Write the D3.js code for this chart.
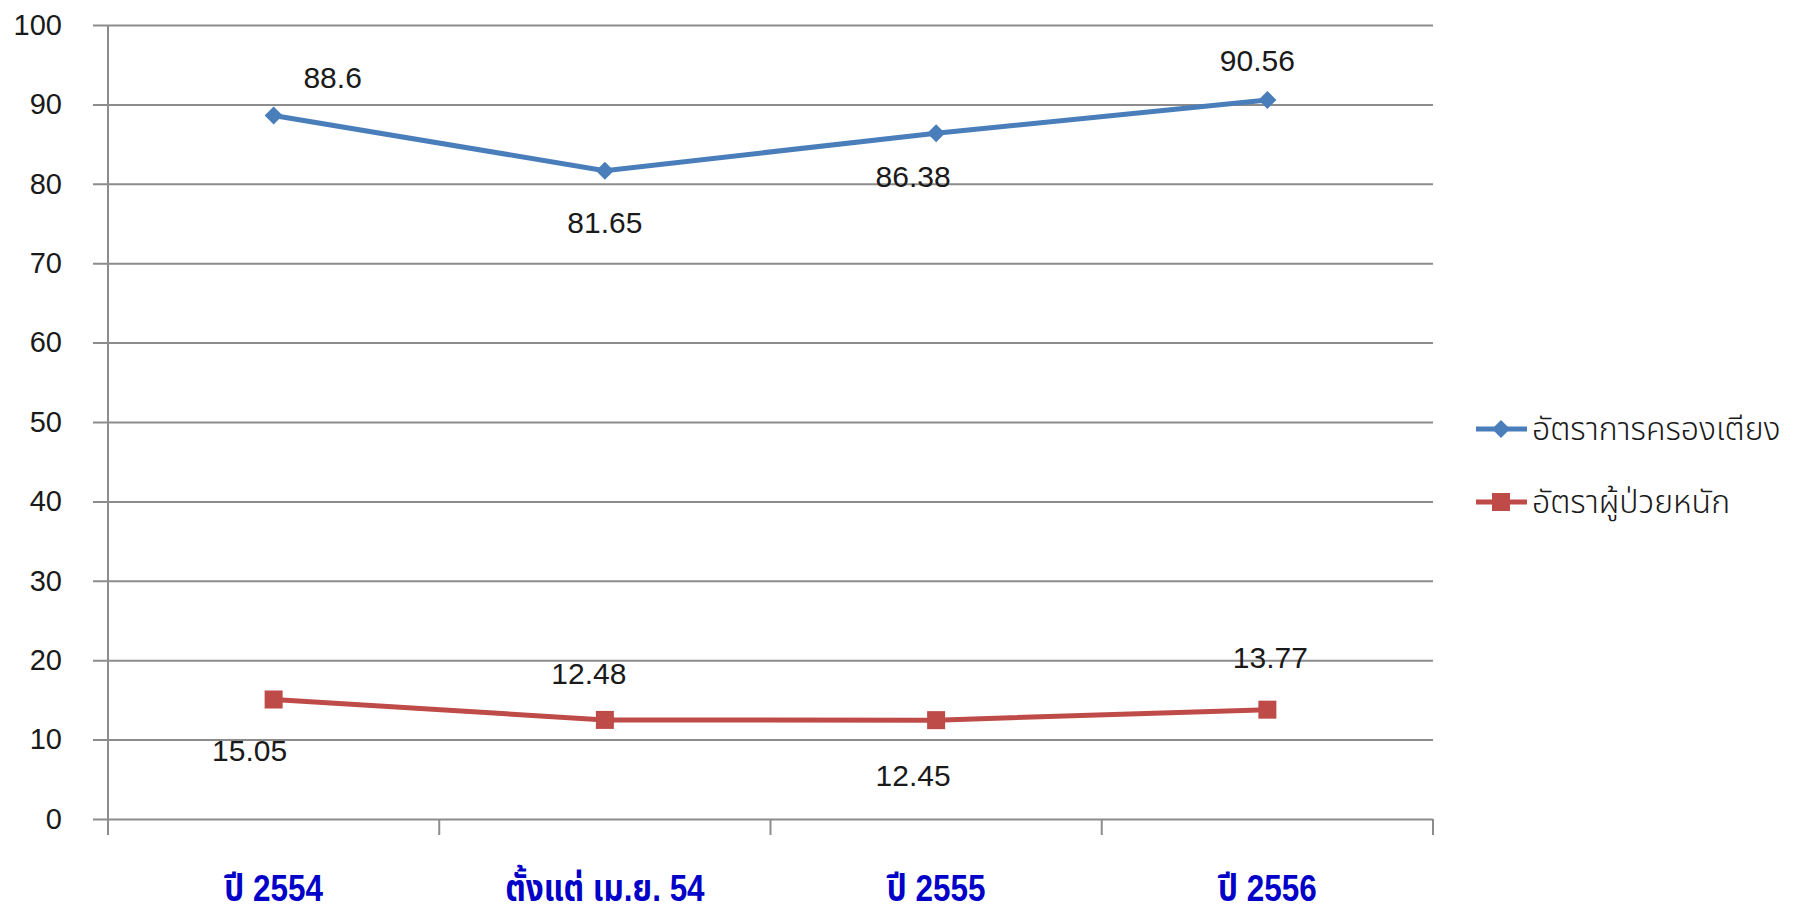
<!DOCTYPE html>
<html>
<head>
<meta charset="utf-8">
<script src="https://cdn.jsdelivr.net/npm/d3@7"></script>
<style>
	body { margin: 0; background: #fff; }
	text { font-family: "Liberation Sans", "Noto Sans Thai", "Noto Sans", sans-serif; }
</style>
</head>
<body>
<div class="chartDiv"></div>
<script>
var categories = ["ปี 2554", "ตั้งแต่ เม.ย. 54", "ปี 2555", "ปี 2556"];
var bedRate = [88.6, 81.65, 86.38, 90.56];
var severeRate = [15.05, 12.48, 12.45, 13.77];
var seriesNames = ["อัตราการครองเตียง", "อัตราผู้ป่วยหนัก"];
var yTicks = [0, 10, 20, 30, 40, 50, 60, 70, 80, 90, 100];

// label offsets from each point (dx, dy of text centre)
var bedLabelPos = [[59, -38], [0, 52], [-23, 43], [-10, -39]];
var severeLabelPos = [[-24, 51], [-16, -46], [-23, 55], [3, -52]];

var width = 1798, height = 911;
var margin = {top: 25, right: 365, bottom: 92, left: 108};

var svg = d3.select(".chartDiv").append("svg")
	.attr("width", width)
	.attr("height", height);

var xScale = d3.scaleBand()
	.domain(categories)
	.range([margin.left, width - margin.right]);

var yScale = d3.scaleLinear()
	.domain([0, 100])
	.range([height - margin.bottom, margin.top]);

// gridlines + y axis
var yAxis = svg.append("g")
	.attr("transform", "translate(" + margin.left + ",0)")
	.call(d3.axisLeft(yScale)
		.tickValues(yTicks)
		.tickSize(-(width - margin.right - margin.left))
		.tickPadding(46));
yAxis.select(".domain").remove();
yAxis.selectAll(".tick line")
	.attr("x1", -15)
	.attr("stroke", "#8c8c8c")
	.attr("stroke-width", 2);
yAxis.selectAll(".tick text")
	.attr("font-size", 29)
	.attr("fill", "#1a1a1a");

// y axis line
svg.append("line")
	.attr("x1", margin.left).attr("x2", margin.left)
	.attr("y1", margin.top).attr("y2", height - margin.bottom + 16)
	.attr("stroke", "#8c8c8c")
	.attr("stroke-width", 2);

// x axis
var xAxis = svg.append("g")
	.attr("transform", "translate(0," + (height - margin.bottom) + ")")
	.call(d3.axisBottom(xScale).tickSize(0).tickPadding(64));
xAxis.select(".domain").remove();
xAxis.selectAll(".tick text")
	.attr("font-size", 37)
	.attr("font-weight", "bold")
	.attr("font-family", "'Liberation Sans Narrow', 'Noto Sans Thai', sans-serif")
	.attr("fill", "#0000c8")
	.attr("dy", "0.5em")
	.attr("transform", "scale(0.85,1)");

var edges = categories.map(function (c) { return xScale(c); }).concat([xScale.range()[1]]);
svg.append("g").selectAll("line")
	.data(edges)
	.enter().append("line")
	.attr("x1", function (d) { return d; })
	.attr("x2", function (d) { return d; })
	.attr("y1", height - margin.bottom)
	.attr("y2", height - margin.bottom + 16)
	.attr("stroke", "#8c8c8c")
	.attr("stroke-width", 2);

function cx(i) { return xScale(categories[i]) + xScale.bandwidth() / 2; }

var line = d3.line()
	.x(function (d, i) { return cx(i); })
	.y(function (d) { return yScale(d); });

var series = [
	{name: seriesNames[0], values: bedRate, color: "#4a7ebb", marker: "diamond", labels: bedLabelPos},
	{name: seriesNames[1], values: severeRate, color: "#be4b48", marker: "square", labels: severeLabelPos}
];

function drawMarker(g, type, x, y, color) {
	if (type === "diamond") {
		g.append("path")
			.attr("d", "M" + x + "," + (y - 9) + "L" + (x + 9) + "," + y + "L" + x + "," + (y + 9) + "L" + (x - 9) + "," + y + "Z")
			.attr("fill", color);
	} else {
		g.append("rect")
			.attr("x", x - 9).attr("y", y - 9)
			.attr("width", 18).attr("height", 18)
			.attr("fill", color);
	}
}

series.forEach(function (s) {
	var g = svg.append("g");
	g.append("path")
		.datum(s.values)
		.attr("d", line)
		.attr("fill", "none")
		.attr("stroke", s.color)
		.attr("stroke-width", 5);
	s.values.forEach(function (v, i) {
		drawMarker(g, s.marker, cx(i), yScale(v), s.color);
		g.append("text")
			.attr("x", cx(i) + s.labels[i][0])
			.attr("y", yScale(v) + s.labels[i][1])
			.attr("dy", "0.35em")
			.attr("text-anchor", "middle")
			.attr("font-size", 30)
			.attr("fill", "#1a1a1a")
			.text(v);
	});
});

// legend
var legend = svg.append("g")
	.selectAll("g")
	.data(series)
	.enter().append("g")
	.attr("transform", function (d, i) { return "translate(1476," + (429 + i * 73) + ")"; });

legend.append("line")
	.attr("x1", 0).attr("x2", 51)
	.attr("stroke", function (d) { return d.color; })
	.attr("stroke-width", 5);
legend.each(function (d) { drawMarker(d3.select(this), d.marker, 25, 0, d.color); });
legend.append("text")
	.attr("x", 56)
	.attr("dy", "0.35em")
	.attr("font-size", 32)
	.attr("font-weight", 300)
	.attr("font-family", "'Noto Sans Thai', sans-serif")
	.attr("fill", "#1a1a1a")
	.text(function (d) { return d.name; });
</script>
</body>
</html>
